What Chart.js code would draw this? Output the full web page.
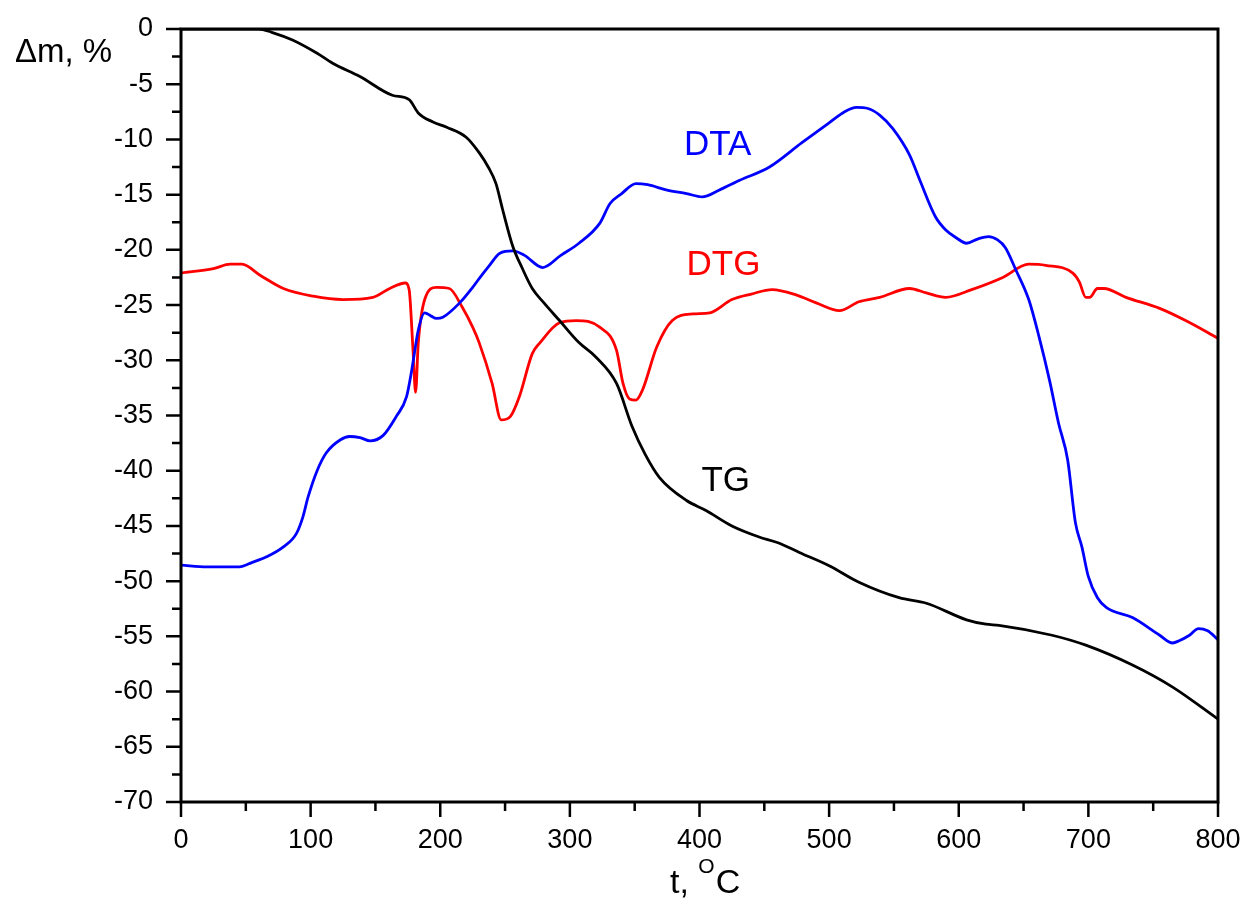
<!DOCTYPE html>
<html>
<head>
<meta charset="utf-8">
<script src="https://cdn.jsdelivr.net/npm/chart.js@4/dist/chart.umd.min.js"></script>
<style>
  html, body { margin: 0; padding: 0; background: #fff; }
  canvas { display: block; }
</style>
</head>
<body>
<canvas id="myChart" width="1249" height="902"></canvas>
<script>
'use strict';

// -------------------- data --------------------
const xTickValues = [0, 100, 200, 300, 400, 500, 600, 700, 800];
const yTickValues = [0, -5, -10, -15, -20, -25, -30, -35, -40, -45, -50, -55, -60, -65, -70];

// TG (black)
const tgT = [0, 40, 60, 70, 86, 105, 117, 138, 163, 176, 183, 194, 205, 220, 230, 237, 243, 248, 256, 263, 271, 280, 292, 307, 320, 336, 348, 358, 369, 390, 405, 425, 446, 460, 477, 500, 523, 554, 575, 606, 621, 631, 672, 698, 734, 765, 800];
const tgV = [0, 0, 0, -0.3, -1.0, -2.2, -3.1, -4.3, -6.0, -6.4, -7.6, -8.4, -8.9, -9.8, -11.2, -12.5, -14.0, -16.3, -19.7, -21.6, -23.5, -24.8, -26.4, -28.4, -29.7, -32.1, -36.0, -38.5, -40.6, -42.7, -43.6, -45.0, -46.0, -46.5, -47.4, -48.6, -50.1, -51.5, -52.0, -53.5, -53.9, -54.0, -54.9, -55.8, -57.6, -59.6, -62.5];

// DTA (blue)
const dtaT = [0, 20, 45, 55, 66, 79, 89, 94, 98, 105, 112, 123, 130, 138, 146, 156, 166, 174, 178, 183, 188, 193, 197, 202, 215, 225, 230, 238, 246, 256, 265, 279, 293, 307, 323, 331, 340, 351, 360, 375, 390, 402, 415, 431, 454, 479, 500, 512, 521, 530, 539, 549, 562, 570, 582, 590, 598, 606, 615, 623, 630, 636, 644, 654, 662, 670, 677, 684, 690, 695, 700, 707, 714, 734, 755, 765, 770, 778, 785, 792, 800];
const dtaV = [-48.55, -48.7, -48.7, -48.3, -47.8, -46.9, -45.7, -44.2, -42.4, -40.0, -38.4, -37.2, -36.9, -37.0, -37.3, -36.8, -35.1, -33.3, -30.9, -27.3, -25.7, -26.0, -26.2, -26.1, -24.8, -23.4, -22.6, -21.4, -20.3, -20.1, -20.5, -21.6, -20.5, -19.4, -17.6, -15.8, -14.9, -14.0, -14.1, -14.6, -14.9, -15.2, -14.6, -13.7, -12.5, -10.3, -8.5, -7.5, -7.1, -7.2, -7.8, -9.0, -11.4, -13.7, -17.0, -18.2, -18.9, -19.4, -19.0, -18.8, -19.1, -19.8, -21.8, -24.5, -27.9, -31.8, -35.7, -39.0, -44.7, -46.9, -49.6, -51.5, -52.4, -53.3, -54.9, -55.6, -55.4, -54.9, -54.3, -54.5, -55.3];

// DTG (red)
const dtgT = [0, 25, 38, 47, 61, 79, 102, 125, 148, 161, 173, 176, 179, 181, 183, 188, 197, 207, 217, 225, 230, 240, 247, 254, 261, 271, 277, 292, 305, 323, 336, 341, 346, 351, 356, 367, 379, 395, 408, 425, 440, 456, 475, 490, 508, 523, 539, 562, 575, 590, 610, 634, 654, 667, 688, 693, 698, 701, 707, 712, 729, 755, 775, 800];
const dtgV = [-22.1, -21.7, -21.3, -21.3, -22.3, -23.5, -24.2, -24.5, -24.3, -23.5, -23.0, -23.6, -29.1, -32.9, -28.5, -24.5, -23.4, -23.5, -25.2, -27.0, -28.4, -32.1, -35.4, -35.1, -33.3, -29.4, -28.4, -26.6, -26.4, -27.0, -29.1, -32.1, -33.5, -33.6, -32.7, -28.8, -26.4, -25.8, -25.7, -24.5, -24.0, -23.6, -24.1, -24.8, -25.5, -24.7, -24.3, -23.5, -23.9, -24.3, -23.6, -22.5, -21.3, -21.4, -22.1, -22.9, -24.3, -24.3, -23.5, -23.5, -24.3, -25.3, -26.4, -28.0];

// curve labels (data coordinates of the text's left baseline)
const curveLabels = [
  { text: 'DTA', t: 388, v: -11.4, color: '#0000ff' },
  { text: 'DTG', t: 390, v: -22.3, color: '#ff0000' },
  { text: 'TG',  t: 401.5, v: -41.8, color: '#000000' },
];

// -------------------- helpers --------------------
const FONT = "'Liberation Sans', Arial, sans-serif";

function toPoints(ts, vs) {
  return ts.map((t, i) => ({ x: t, y: vs[i] }));
}

function lineSet(ts, vs, color) {
  return {
    data: toPoints(ts, vs),
    borderColor: color,
    borderWidth: 2.8,
    pointRadius: 0,
    fill: false,
    cubicInterpolationMode: 'monotone',
  };
}

// scale padding would push the plot area inward, so drop it
function noPad(scale) {
  scale.paddingLeft = 0;
  scale.paddingRight = 0;
  scale.paddingTop = 0;
  scale.paddingBottom = 0;
}

// -------------------- frame, ticks, texts --------------------
const decorPlugin = {
  id: 'decor',
  afterDatasetsDraw(chart) {
    const c = chart.ctx;
    const a = chart.chartArea;
    const xs = chart.scales.x;
    const ys = chart.scales.y;

    c.save();
    c.strokeStyle = '#000';
    c.lineWidth = 3;
    c.strokeRect(a.left, a.top, a.right - a.left, a.bottom - a.top);

    // tick marks, outward
    c.lineWidth = 2.5;
    c.beginPath();
    yTickValues.forEach((v, i) => {
      const y = ys.getPixelForValue(v);
      c.moveTo(a.left - 15, y);
      c.lineTo(a.left, y);
      if (i < yTickValues.length - 1) {
        const ym = ys.getPixelForValue((v + yTickValues[i + 1]) / 2);
        c.moveTo(a.left - 9, ym);
        c.lineTo(a.left, ym);
      }
    });
    xTickValues.forEach((v, i) => {
      const x = xs.getPixelForValue(v);
      c.moveTo(x, a.bottom);
      c.lineTo(x, a.bottom + 15);
      if (i < xTickValues.length - 1) {
        const xm = xs.getPixelForValue((v + xTickValues[i + 1]) / 2);
        c.moveTo(xm, a.bottom);
        c.lineTo(xm, a.bottom + 9);
      }
    });
    c.stroke();

    // curve labels
    c.textBaseline = 'alphabetic';
    c.textAlign = 'left';
    c.font = '35px ' + FONT;
    curveLabels.forEach(l => {
      c.fillStyle = l.color;
      c.fillText(l.text, xs.getPixelForValue(l.t), ys.getPixelForValue(l.v));
    });

    // y title
    c.fillStyle = '#000';
    c.font = '33px ' + FONT;
    c.fillText('\u0394m, %', 15, 62);

    // x title: t, °C with superscript O
    let x = 670;
    const base = 893;
    c.font = '34px ' + FONT;
    c.fillText('t, ', x, base);
    x += c.measureText('t, ').width;
    c.font = '21px ' + FONT;
    c.fillText('O', x, base - 20);
    x += c.measureText('O').width + 1;
    c.font = '34px ' + FONT;
    c.fillText('C', x, base);
    c.restore();
  }
};

// -------------------- Chart.js --------------------
{
  const ctx = document.getElementById('myChart').getContext('2d');
  const myChart = new Chart(ctx, {
    type: 'line',
    data: {
      datasets: [
        lineSet(tgT, tgV, '#000000'),
        lineSet(dtaT, dtaV, '#0000ff'),
        lineSet(dtgT, dtgV, '#ff0000'),
      ]
    },
    options: {
      responsive: false,
      animation: false,
      layout: { padding: { left: 0, top: 29, right: 31, bottom: 0 } },
      plugins: {
        legend: { display: false },
        tooltip: { enabled: false },
      },
      scales: {
        x: {
          type: 'linear',
          min: 0,
          max: 800,
          afterBuildTicks: scale => { scale.ticks = xTickValues.map(v => ({ value: v })); },
          afterFit: scale => { scale.height = 100; noPad(scale); },
          grid: { display: false },
          border: { display: false },
          ticks: {
            color: '#000',
            font: { family: FONT, size: 27 },
            padding: 14,
            maxRotation: 0,
          },
        },
        y: {
          type: 'linear',
          min: -70,
          max: 0,
          afterBuildTicks: scale => { scale.ticks = yTickValues.map(v => ({ value: v })); },
          afterFit: scale => { scale.width = 181; noPad(scale); },
          grid: { display: false },
          border: { display: false },
          ticks: {
            color: '#000',
            font: { family: FONT, size: 27 },
            padding: 20,
          },
        },
      },
    },
    plugins: [decorPlugin],
  });
}
</script>
</body>
</html>
